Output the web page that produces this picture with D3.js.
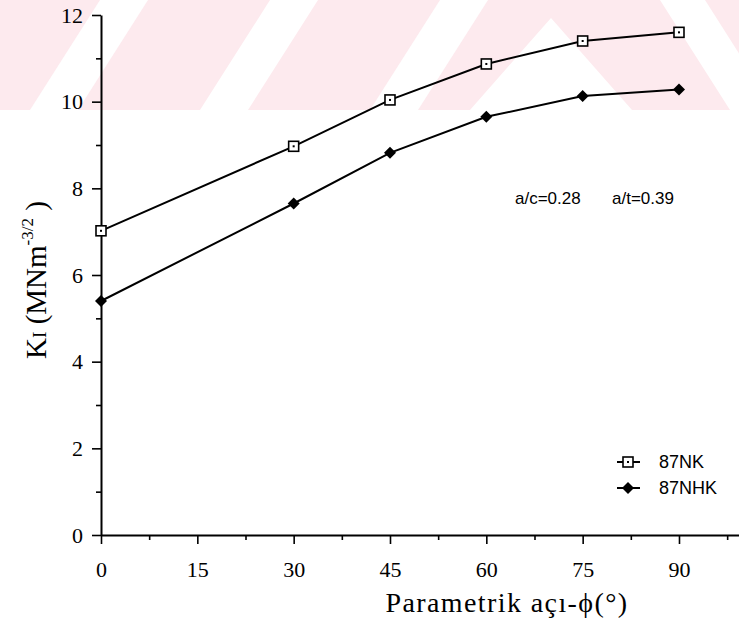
<!DOCTYPE html>
<html>
<head>
<meta charset="utf-8">
<script src="https://cdn.jsdelivr.net/npm/d3@7"></script>
<style>
  html, body { margin: 0; padding: 0; background: #fff; }
  svg { display: block; }
</style>
</head>
<body>
<svg id="chart" width="739" height="624"></svg>
<script>
// data
const angles = [0, 30, 45, 60, 75, 90];
const nkValues = [7.02, 8.97, 10.04, 10.87, 11.4, 11.6];
const nhkValues = [5.4, 7.65, 8.82, 9.65, 10.13, 10.28];
const xTicks = [0, 15, 30, 45, 60, 75, 90];
const xMinorTicks = [7.5, 22.5, 37.5, 52.5, 67.5, 82.5, 97.5];
const yTicks = [0, 2, 4, 6, 8, 10, 12];
const yMinorTicks = [1, 3, 5, 7, 9, 11];
const seriesNames = ['87NK', '87NHK'];

const svg = d3.select('#chart');

// faint watermark band at the top
const wm = svg.append('g');
wm.append('rect').attr('x', 0).attr('y', 0).attr('width', 739).attr('height', 110).attr('fill', '#fdeaee');
[30, 200, 370].forEach(x0 => {
  wm.append('polygon')
    .attr('points', `${x0},110 ${x0 + 48},110 ${x0 + 118},0 ${x0 + 70},0`)
    .attr('fill', '#fff');
});
wm.append('polygon').attr('points', '551,18 470,110 632,110').attr('fill', '#fff');
wm.append('polygon').attr('points', '660,0 705,0 775,110 730,110').attr('fill', '#fff');

const x = d3.scaleLinear().domain([0, 99.5]).range([101, 740]);
const y = d3.scaleLinear().domain([0, 12]).range([535, 15]);

const serif = '"Liberation Serif", "Times New Roman", serif';
const sans = '"Liberation Sans", Arial, sans-serif';

// x axis
const gx = svg.append('g').attr('transform', `translate(0,${y(0)})`);
gx.call(d3.axisBottom(x).tickValues(xTicks).tickSize(9).tickSizeOuter(0).tickPadding(17));
gx.append('g').call(d3.axisBottom(x).tickValues(xMinorTicks).tickSize(5).tickFormat(''))
  .select('.domain').remove();

// y axis
const gy = svg.append('g').attr('transform', `translate(${x(0)},0)`);
gy.call(d3.axisLeft(y).tickValues(yTicks).tickSize(9).tickSizeOuter(0).tickPadding(9));
gy.append('g').call(d3.axisLeft(y).tickValues(yMinorTicks).tickSize(5).tickFormat(''))
  .select('.domain').remove();

svg.selectAll('.domain').attr('stroke', '#000').attr('stroke-width', 2);
svg.selectAll('.tick line').attr('stroke', '#000').attr('stroke-width', 1.6);
svg.selectAll('.tick text')
  .attr('fill', '#000')
  .style('font-family', serif)
  .style('font-size', '22px');

// lines
const line = d3.line().x((d, i) => x(angles[i])).y(d => y(d));

svg.append('path').datum(nkValues)
  .attr('d', line).attr('fill', 'none').attr('stroke', '#000').attr('stroke-width', 2);
svg.append('path').datum(nhkValues)
  .attr('d', line).attr('fill', 'none').attr('stroke', '#000').attr('stroke-width', 2);

function squareMarker(g, cx, cy) {
  g.append('rect').attr('x', cx - 5).attr('y', cy - 5).attr('width', 10).attr('height', 10)
    .attr('fill', '#fff').attr('stroke', '#000').attr('stroke-width', 1.6);
  g.append('rect').attr('x', cx - 1).attr('y', cy - 1).attr('width', 2).attr('height', 2).attr('fill', '#000');
}
function diamondMarker(g, cx, cy) {
  g.append('path')
    .attr('d', `M${cx},${cy - 6}L${cx + 6},${cy}L${cx},${cy + 6}L${cx - 6},${cy}Z`)
    .attr('fill', '#000');
}

const markers = svg.append('g');
nkValues.forEach((v, i) => squareMarker(markers, x(angles[i]), y(v)));
nhkValues.forEach((v, i) => diamondMarker(markers, x(angles[i]), y(v)));

// axis titles
svg.append('text')
  .attr('x', 507).attr('y', 612)
  .attr('text-anchor', 'middle')
  .style('font-family', serif).style('font-size', '28px')
  .style('letter-spacing', '1.4px')
  .text('Parametrik açı-ϕ(°)');

const yl = svg.append('text')
  .attr('transform', 'translate(46,280) rotate(-90)')
  .attr('text-anchor', 'middle')
  .style('font-family', serif).style('font-size', '29px');
yl.append('tspan').text('K');
yl.append('tspan').style('font-size', '19px').text('I');
yl.append('tspan').text(' (MNm');
yl.append('tspan').attr('dy', -13).style('font-size', '17px').text('-3/2');
yl.append('tspan').attr('dy', 13).text(' )');

// annotation
svg.append('text')
  .attr('x', 515).attr('y', 204)
  .style('font-family', sans).style('font-size', '17px')
  .text('a/c=0.28');
svg.append('text')
  .attr('x', 612).attr('y', 204)
  .style('font-family', sans).style('font-size', '17px')
  .text('a/t=0.39');

// legend
const legend = svg.append('g');
seriesNames.forEach((name, i) => {
  const ly = 462 + i * 26;
  legend.append('line').attr('x1', 617).attr('x2', 640).attr('y1', ly).attr('y2', ly)
    .attr('stroke', '#000').attr('stroke-width', 2);
  if (i === 0) squareMarker(legend, 628, ly);
  else diamondMarker(legend, 628, ly);
  legend.append('text')
    .attr('x', 659).attr('y', ly + 6)
    .style('font-family', sans).style('font-size', '18px')
    .text(name);
});
</script>
</body>
</html>
